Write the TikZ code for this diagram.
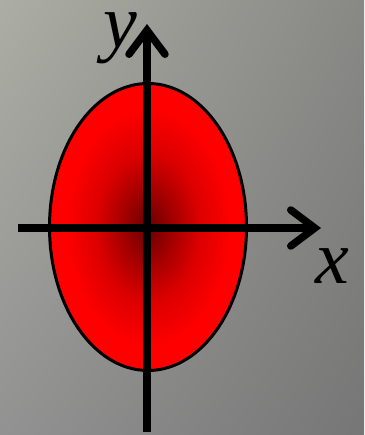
\documentclass[tikz,border=0pt]{standalone}
\usepackage{fontspec}
\setmainfont{Liberation Serif}
\usetikzlibrary{arrows.meta,shadings}
\definecolor{bgul}{RGB}{172,173,164}
\definecolor{bgur}{RGB}{136,136,133}
\definecolor{bgll}{RGB}{146,146,146}
\definecolor{bglr}{RGB}{118,118,118}
\definecolor{coredark}{RGB}{105,0,0}
\definecolor{coremid}{RGB}{160,0,0}
\definecolor{coreout}{RGB}{220,0,0}
\pgfdeclareradialshading{redcore}{\pgfpoint{0bp}{0bp}}{color(0bp)=(coredark); color(6bp)=(coremid); color(13bp)=(coreout); color(21bp)=(red); color(50bp)=(red)}

\begin{document}
\begin{tikzpicture}[x=1pt,y=1pt,
	axis/.style={line width=7.5pt,-{Straight Barb[length=24pt,width=36pt,line cap=round]}},
	lbl/.style={inner sep=0pt,font=\fontsize{76}{80}\selectfont\itshape}]
\shade[upper left=bgul,upper right=bgur,lower left=bgll,lower right=bglr] (0,0) rectangle (364,435);
\useasboundingbox (0,0) rectangle (364,435);
% the ellipse
\coordinate (o) at (148,208);
\shade[shading=redcore] (o) ellipse (98.5 and 143.5);
\draw[line width=3pt] (o) ellipse (98.5 and 143.5);
% axes
\coordinate (xs) at (18,207);
\coordinate (xe) at (321,207);
\coordinate (ys) at (147,3);
\coordinate (ye) at (147,411);
\draw[axis] (xs) -- (xe);
\draw[axis] (ys) -- (ye);
\node[lbl] (ylab) at (120,397) {y};
\node[lbl] (xlab) at (332,169) {x};
\end{tikzpicture}
\end{document}
